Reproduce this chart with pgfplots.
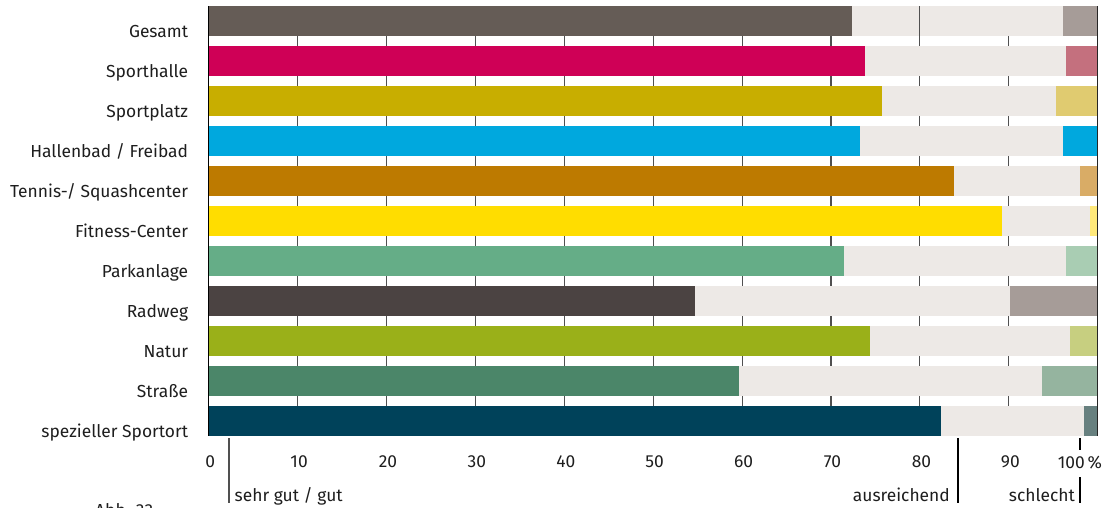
\documentclass[border=0pt]{standalone}
\usepackage{fontspec}
\setmainfont{Fira Sans}
\usepackage{pgfplots}
\pgfplotsset{compat=1.18}
\definecolor{mid}{HTML}{EDE9E6}
\definecolor{txt}{HTML}{1E1E1E}
\definecolor{gridc}{HTML}{505050}
\definecolor{cA}{HTML}{655C56}\definecolor{lA}{HTML}{A69C98}
\definecolor{cB}{HTML}{CF0056}\definecolor{lB}{HTML}{C4707E}
\definecolor{cC}{HTML}{C8AE00}\definecolor{lC}{HTML}{E0CB70}
\definecolor{cD}{HTML}{00A8DE}\definecolor{lD}{HTML}{00A8DE}
\definecolor{cE}{HTML}{BD7A00}\definecolor{lE}{HTML}{D9AC66}
\definecolor{cF}{HTML}{FFDD00}\definecolor{lF}{HTML}{FFE97A}
\definecolor{cG}{HTML}{65AD87}\definecolor{lG}{HTML}{A9CDB3}
\definecolor{cH}{HTML}{4B4342}\definecolor{lH}{HTML}{A69C98}
\definecolor{cI}{HTML}{9AB019}\definecolor{lI}{HTML}{C7CF80}
\definecolor{cJ}{HTML}{4B8669}\definecolor{lJ}{HTML}{95B49F}
\definecolor{cK}{HTML}{00425A}\definecolor{lK}{HTML}{67807F}
% #1 row, #2 sehr gut/gut, #3 sehr gut/gut + ausreichend, #4 dark colour, #5 light colour
\newcommand{\catbar}[5]{%
  \addplot[hb, fill=#5] coordinates {(100,#1)};
  \addplot[hb, fill=mid] coordinates {(#3,#1)};
  \addplot[hb, fill=#4] coordinates {(#2,#1)};
}
\begin{document}
\begin{tikzpicture}[x=1pt,y=1pt]
\useasboundingbox (0,0) rectangle (1117,-508);
\begin{axis}[
  at={(208.7pt,-6pt)}, anchor=north west,
  scale only axis, width=889pt, height=430pt,
  xmin=0, xmax=100, ymin=-0.375, ymax=10.375, y dir=reverse,
  axis line style={draw=none},
  major tick length=0pt,
  xmajorgrids, grid style={gridc, line width=1.1pt},
  xtick={0,10,...,100},
  xticklabels={0,10,20,30,40,50,60,70,80,90,{}},
  ytick={0,...,10},
  yticklabels={Gesamt,Sporthalle,Sportplatz,Hallenbad / Freibad,Tennis-/ Squashcenter,Fitness-Center,Parkanlage,Radweg,Natur,Straße,spezieller Sportort},
  tick label style={font=\fontsize{17.4}{20}\selectfont, text=txt, inner sep=0pt},
  xticklabel style={anchor=base, yshift=-31.5pt, xshift=1.5pt},
  yticklabel style={anchor=base east, xshift=-20.4pt, yshift=-16pt},
  hb/.style={xbar, bar width=30pt, bar shift=0pt, draw=none},
  clip=false,
]
\catbar{0}{72.4}{96.1}{cA}{lA}
\catbar{1}{73.8}{96.4}{cB}{lB}
\catbar{2}{75.7}{95.3}{cC}{lC}
\catbar{3}{73.3}{96.1}{cD}{lD}
\catbar{4}{83.8}{98.0}{cE}{lE}
\catbar{5}{89.2}{99.1}{cF}{lF}
\catbar{6}{71.5}{96.4}{cG}{lG}
\catbar{7}{54.7}{90.1}{cH}{lH}
\catbar{8}{74.4}{96.9}{cI}{lI}
\catbar{9}{59.7}{93.7}{cJ}{lJ}
\catbar{10}{82.4}{98.5}{cK}{lK}
\draw[gridc, line width=1.1pt] (axis cs:80,-0.375) -- (axis cs:80,0.375);
\draw[black, line width=1.3pt] (axis cs:0,-0.375) -- (axis cs:0,10.375);
\draw[black!85, line width=1.3pt] (axis cs:100,-0.375) -- (axis cs:100,10.375);
\end{axis}
\begin{scope}[font=\fontsize{17.4}{20}\selectfont, text=txt]
\node[anchor=base, inner sep=0pt] at (1080,-468) {100\,\%};
\draw[gridc, line width=1.3pt] (229,-438) -- (229,-503);
\node[anchor=base west, inner sep=0pt] at (234.5,-501) {sehr gut / gut};
\draw[black, line width=1.3pt] (958,-438) -- (958,-503);
\node[anchor=base east, inner sep=0pt] at (950,-501) {ausreichend};
\draw[black, line width=1.3pt] (1080,-438) -- (1080,-450);
\draw[black, line width=1.3pt] (1080,-477) -- (1080,-503);
\node[anchor=base east, inner sep=0pt] at (1075,-501) {schlecht};
\node[anchor=base west, inner sep=0pt] at (95,-516) {Abb. 33};
\end{scope}
\end{tikzpicture}
\end{document}
